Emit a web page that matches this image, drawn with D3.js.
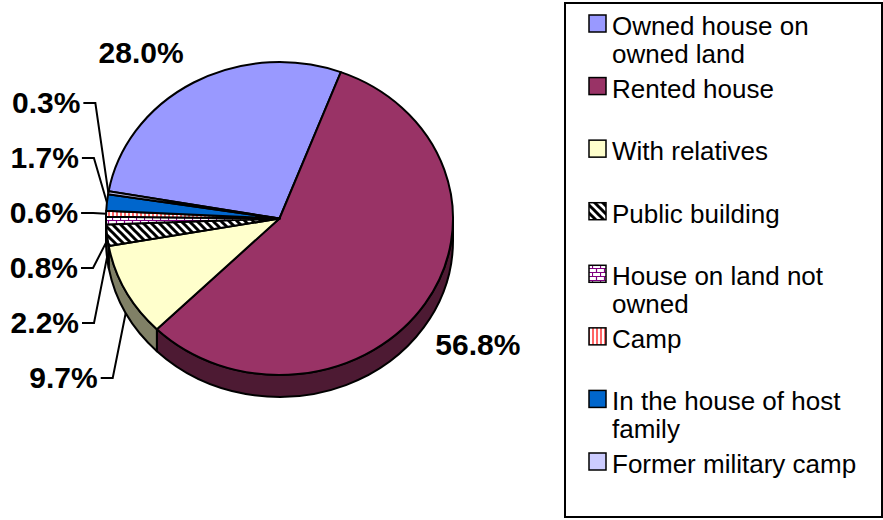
<!DOCTYPE html>
<html><head><meta charset="utf-8">
<script src="https://cdn.jsdelivr.net/npm/d3@7"></script>
<style>body{margin:0;background:#fff} svg{display:block}</style>
</head><body>
<svg id="c" width="883" height="520"></svg>
<script>
const categories = ["Owned house on owned land","Rented house","With relatives","Public building","House on land not owned","Camp","In the house of host family","Former military camp"];
const values = [28.0, 56.8, 9.7, 2.2, 0.8, 0.6, 1.7, 0.3];
const valueLabels = ["28.0%","56.8%","9.7%","2.2%","0.8%","0.6%","1.7%","0.3%"];
const fills = ["#9999FF","#993366","#FFFFCC","url(#pHatch)","url(#pBrick)","url(#pCamp)","#0066CC","#CCCCFF"];
const sideFills = ["#4D4D80","#4D1A33","#808066","#444444","#604060","#806060","#003366","#666680"];

const svg = d3.select("#c");
const defs = svg.append("defs");
// patterns
const ph = defs.append("pattern").attr("id","pHatch").attr("patternUnits","userSpaceOnUse").attr("width",8).attr("height",8);
ph.append("rect").attr("width",8).attr("height",8).attr("fill","#fff");
ph.append("path").attr("d","M-2,-2L10,10M-2,6L2,10M6,-2L10,2").attr("stroke","#000").attr("stroke-width",3);
const pb = defs.append("pattern").attr("id","pBrick").attr("patternUnits","userSpaceOnUse").attr("width",8).attr("height",8);
pb.append("rect").attr("width",8).attr("height",8).attr("fill","#fff");
pb.append("path").attr("d","M0,0.5H8M0,4.5H8M0.5,0V4.5M4.5,4.5V8").attr("stroke","#800080").attr("stroke-width",1.2).attr("fill","none");
const pc = defs.append("pattern").attr("id","pCamp").attr("patternUnits","userSpaceOnUse").attr("width",4).attr("height",4);
pc.append("rect").attr("width",4).attr("height",4).attr("fill","#fff");
pc.append("rect").attr("width",2).attr("height",4).attr("fill","#FF6666");

const cx = 279.5, cy = 218.5, rx = 173.5, ry = 156.5, depth = 22;
const start = -80 * Math.PI / 180;
const pie = d3.pie().sort(null).value(d => d).startAngle(start).endAngle(start + 2 * Math.PI);
const arcs = pie(values);
const P = (a, dy = 0) => [cx + rx * Math.sin(a), cy - ry * Math.cos(a) + dy];
const f = p => p[0].toFixed(2) + "," + p[1].toFixed(2);

const gPie = svg.append("g");
// walls
arcs.forEach((d, i) => {
  const b0 = Math.max(d.startAngle, Math.PI / 2), b1 = Math.min(d.endAngle, 3 * Math.PI / 2);
  if (b1 > b0) {
    gPie.append("path")
      .attr("d", `M${f(P(b0))}A${rx},${ry} 0 0 1 ${f(P(b1))}L${f(P(b1, depth))}A${rx},${ry} 0 0 0 ${f(P(b0, depth))}Z`)
      .attr("fill", sideFills[i]).attr("stroke", "#000").attr("stroke-width", 2).attr("stroke-linejoin", "round");
  }
});
// top faces
arcs.forEach((d, i) => {
  const large = (d.endAngle - d.startAngle) > Math.PI ? 1 : 0;
  gPie.append("path")
    .attr("d", `M${cx},${cy}L${f(P(d.startAngle))}A${rx},${ry} 0 ${large} 1 ${f(P(d.endAngle))}Z`)
    .attr("fill", fills[i]).attr("stroke", "#000").attr("stroke-width", 2).attr("stroke-linejoin", "round");
});

// labels
const font = "'Liberation Sans', Arial, sans-serif";
const gLab = svg.append("g").attr("font-family", font).attr("font-weight", "bold").attr("font-size", 30).attr("fill", "#000");
const isFront = a => { const m = ((a % (2*Math.PI)) + 2*Math.PI) % (2*Math.PI); return m >= Math.PI/2 && m <= 3*Math.PI/2; };
const small = [];
arcs.forEach((d, i) => {
  const mid = (d.startAngle + d.endAngle) / 2;
  const p = P(mid, isFront(mid) ? depth : 0);
  if (d.data >= 10) {
    const t = gLab.append("text").text(valueLabels[i]).attr("text-anchor", "middle");
    const w = t.node().getComputedTextLength();
    const s = Math.sin(mid) < 0 ? -1 : 1;
    const x = p[0] + s * (w / 2 + 10);
    const y = p[1] - Math.cos(mid) * 35;
    t.attr("x", x).attr("y", y + 11);
  } else {
    small.push({i, mid, p});
  }
});
small.sort((a, b) => b.mid - a.mid);
small.forEach((s, k) => {
  const base = 113 + 55 * k;
  const xr = Math.max(77, s.p[0] - 28);
  gLab.append("text").text(valueLabels[s.i]).attr("text-anchor", "end").attr("x", xr).attr("y", base);
  svg.append("path")
    .attr("d", `M${xr + 3},${base - 10}H${xr + 15}L${f(s.p)}`)
    .attr("fill", "none").attr("stroke", "#000").attr("stroke-width", 2);
});

// legend
svg.append("rect").attr("x", 565).attr("y", 3).attr("width", 317).attr("height", 514)
  .attr("fill", "#fff").attr("stroke", "#000").attr("stroke-width", 2);
const ly = d3.scaleLinear().domain([0, categories.length - 1]).range([35, 473]);
const gLeg = svg.append("g").attr("font-family", font).attr("font-size", 26).attr("fill", "#000");
categories.forEach((c, i) => {
  const y0 = ly(i);
  gLeg.append("rect").attr("x", 589).attr("y", y0 - 20).attr("width", 17).attr("height", 17)
    .attr("fill", fills[i]).attr("stroke", "#000").attr("stroke-width", 1.5);
  const t = gLeg.append("text").attr("x", 612).attr("y", y0);
  const words = c.split(" ");
  let line = [], ts = t.append("tspan").attr("x", 612).attr("y", y0), lineNo = 0;
  words.forEach(w => {
    line.push(w);
    ts.text(line.join(" "));
    if (ts.node().getComputedTextLength() > 250 && line.length > 1) {
      line.pop(); ts.text(line.join(" "));
      line = [w]; lineNo++;
      ts = t.append("tspan").attr("x", 612).attr("y", y0 + 28 * lineNo).text(w);
    }
  });
});
</script>
</body></html>
